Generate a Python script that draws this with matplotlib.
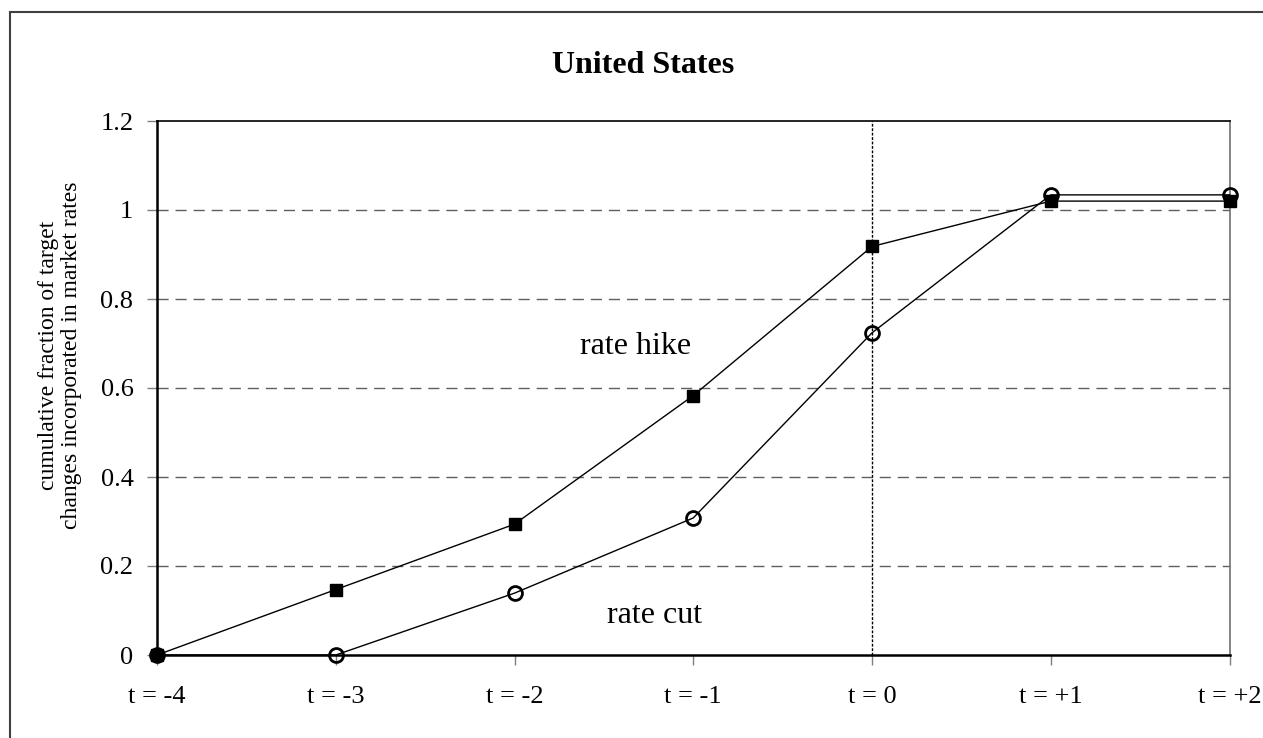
"""
United States: cumulative fraction of target changes incorporated in market rates.
"""
import matplotlib
matplotlib.use('Agg')
import matplotlib.pyplot as plt
from matplotlib.lines import Line2D
import numpy as np

plt.rcParams['font.family'] = ['Liberation Serif', 'DejaVu Serif']

# data
periods = ['t = -4', 't = -3', 't = -2', 't = -1', 't = 0', 't = +1', 't = +2']
rate_hike = [0.0, 0.147, 0.294, 0.583, 0.918, 1.020, 1.020]
rate_cut = [0.0, 0.0, 0.139, 0.308, 0.724, 1.034, 1.034]
y_ticks = [0, 0.2, 0.4, 0.6, 0.8, 1.0, 1.2]
y_tick_labels = ['0', '0.2', '0.4', '0.6', '0.8', '1', '1.2']

W, H = 1263, 738
fig = plt.figure(figsize=(W / 100, H / 100), dpi=100)
ax = fig.add_axes([157 / W, 1 - 655 / H, (1229.5 - 157) / W, (655 - 121) / H])

x = np.arange(len(periods))

# dashed grid
for yv in y_ticks[1:-1]:
    ax.axhline(yv, color='#5f5f5f', linewidth=1, dashes=(8, 5), zorder=1)

# t = 0 reference line
ax.axvline(periods.index('t = 0'), color='black', linewidth=1, dashes=(2, 1.2), zorder=1)

ax.plot(x, rate_cut, color='black', linewidth=1, marker='o', markersize=10,
        markerfacecolor='none', markeredgecolor='black', markeredgewidth=2,
        clip_on=False, zorder=3)
ax.plot(x, rate_hike, color='black', linewidth=1, marker='s', markersize=8,
        markerfacecolor='black', markeredgecolor='black',
        clip_on=False, zorder=3)

ax.set_xlim(0, len(periods) - 1)
ax.set_ylim(0, 1.2)
ax.set_xticks(x)
ax.set_xticklabels(periods, fontsize=19)
ax.set_yticks(y_ticks)
ax.set_yticklabels(y_tick_labels, fontsize=19)
ax.tick_params(axis='x', direction='out', length=7, width=1, color='#7f7f7f', pad=15)
ax.tick_params(axis='y', direction='out', length=7, width=1, color='#7f7f7f', pad=10)

for side in ['left', 'bottom']:
    ax.spines[side].set_linewidth(1.8)
    ax.spines[side].set_color('black')
ax.spines['top'].set_linewidth(1.2)
ax.spines['top'].set_color('black')
ax.spines['right'].set_linewidth(1.2)
ax.spines['right'].set_color('#6f6f6f')

ax.text(2.68, 0.677, 'rate hike', fontsize=23, ha='center', va='baseline')
ax.text(2.786, 0.072, 'rate cut', fontsize=23, ha='center', va='baseline')

fig.text(643 / W, 1 - 73 / H, 'United States', fontsize=23, fontweight='bold',
         ha='center', va='baseline')
fig.text(60 / W, 1 - 355 / H,
         'cumulative fraction of target\nchanges incorporated in market rates',
         fontsize=17, rotation=90, ha='center', va='center', linespacing=1.15)

# outer chart frame
fig.add_artist(Line2D([10 / W, 10 / W], [0, 1 - 12 / H], transform=fig.transFigure,
                      color='#3f3f3f', linewidth=1.5))
fig.add_artist(Line2D([10 / W, 1], [1 - 12 / H, 1 - 12 / H], transform=fig.transFigure,
                      color='#3f3f3f', linewidth=1.5))

fig.savefig('out.png', dpi=100)
plt.close(fig)
